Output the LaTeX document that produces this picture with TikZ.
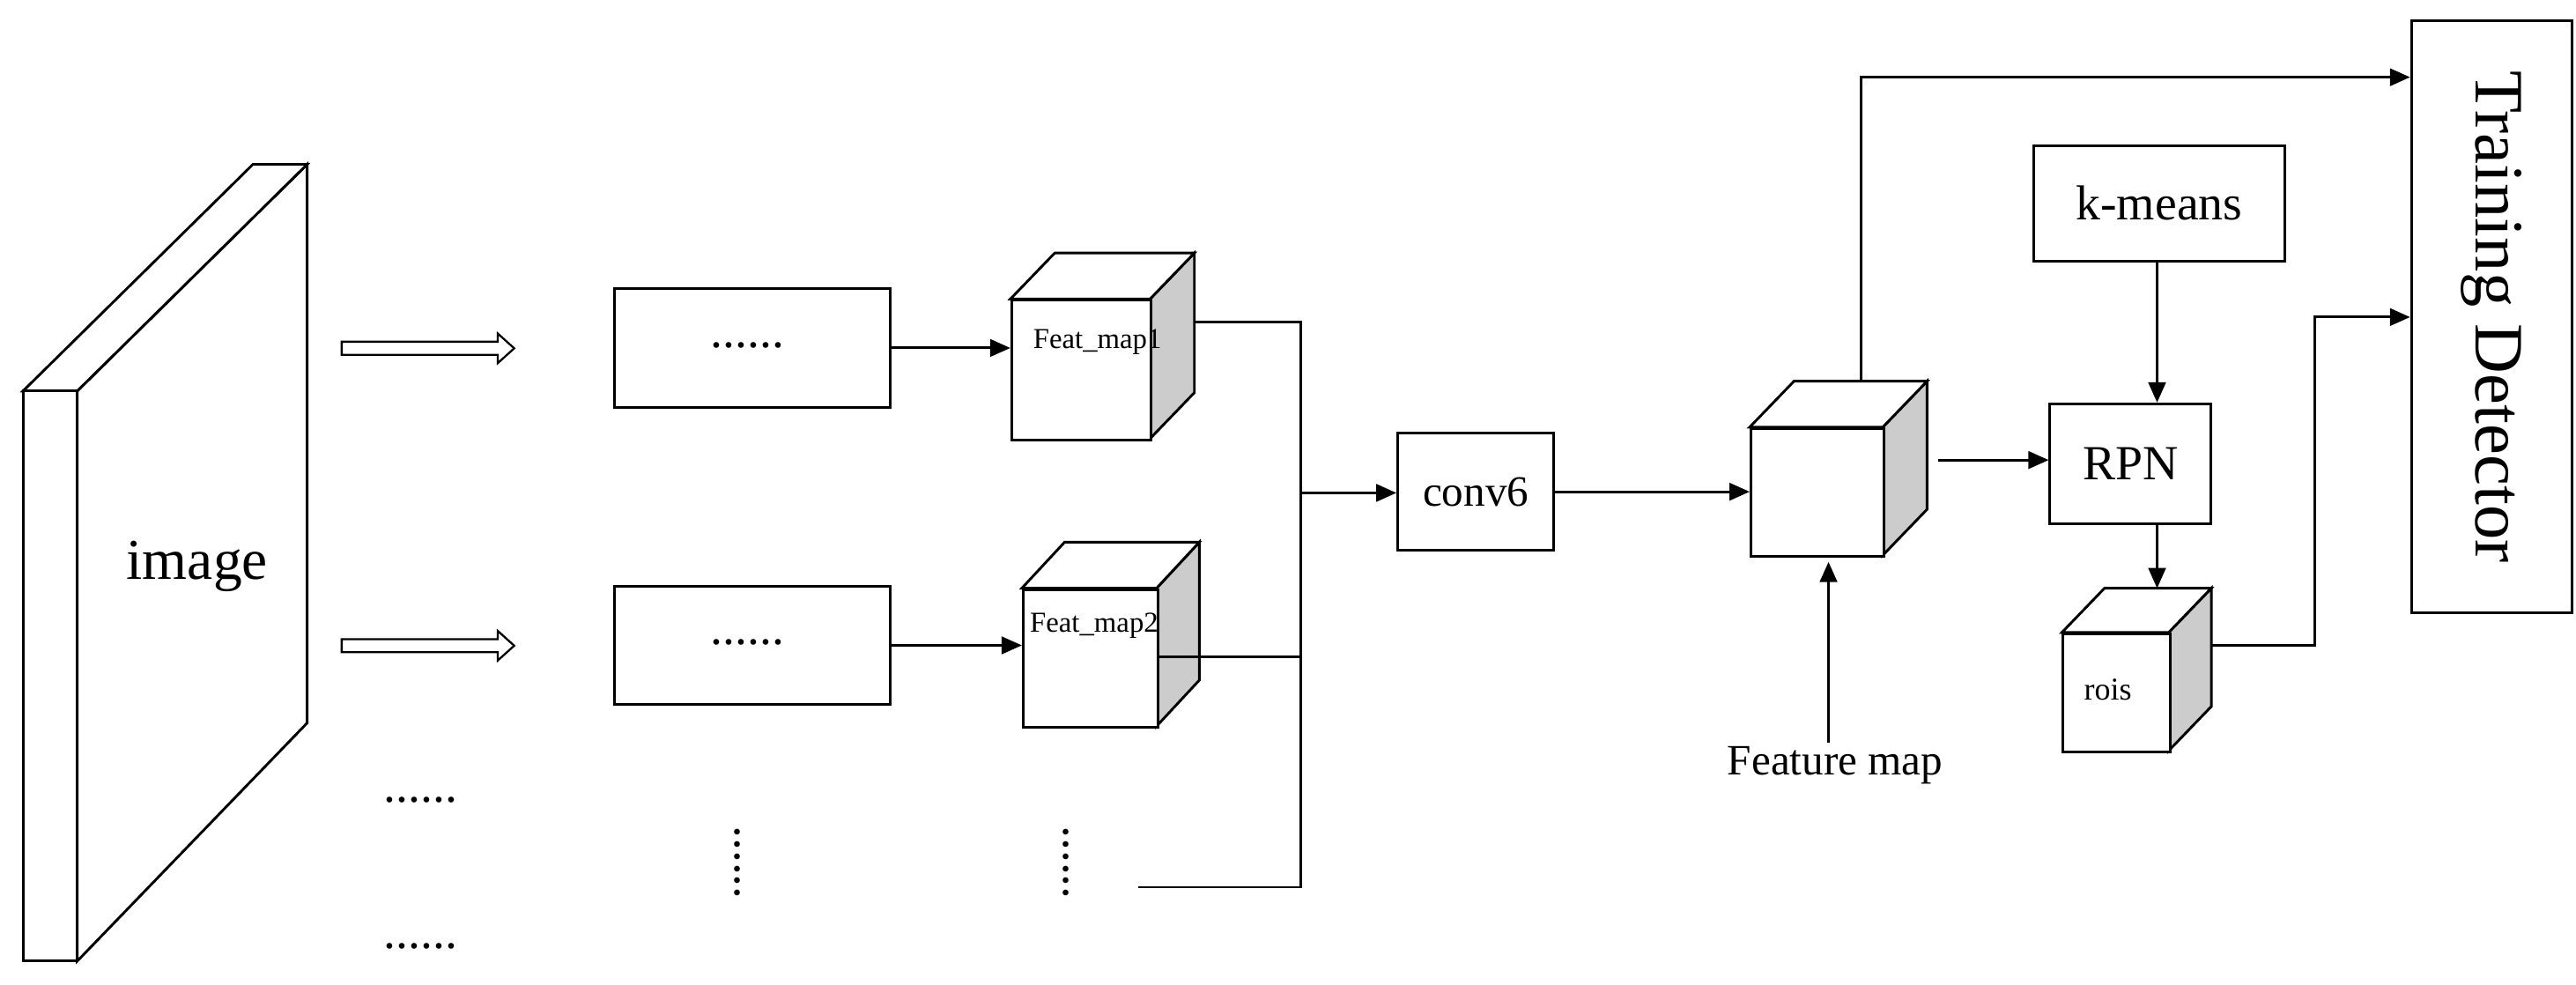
\documentclass[tikz,border=0pt]{standalone}
\usepackage{fontspec}
\setmainfont{Liberation Serif}
\usetikzlibrary{arrows.meta}
\begin{document}
\begin{tikzpicture}[x=0.02cm,y=-0.02cm,line width=0.9pt,
  box/.style={draw,inner sep=0,anchor=north west},
  arr/.style={-{Triangle[length=7pt,width=6pt]}},
  dots/.style={font=\fontsize{17}{20}\selectfont}]
\useasboundingbox (0,0) rectangle (1568,599);
% image slab
\draw[fill=white] (47,238) -- (187,100) -- (187,440) -- (47,585) -- cycle;
\draw[fill=white] (14,238) -- (154,100) -- (187,100) -- (47,238) -- cycle;
\draw[fill=white] (14,238) rectangle (47,585);
\node (img) at (120,345) {\fontsize{20}{24}\selectfont image};
% hollow arrows
\foreach \y in {212,393}{
  \draw[line width=0.7pt] (208,\y-4) -- (303,\y-4) -- (303,\y-9) -- (313,\y) -- (303,\y+9) -- (303,\y+4) -- (208,\y+4) -- cycle;
}
\node[dots] at (256,487) {......};
\node[dots] at (256,576) {......};
% dotted boxes
\node[box,minimum width=168*0.02cm,minimum height=72*0.02cm] (b1) at (373,175) {};
\node[dots] at (455,210) {......};
\node[box,minimum width=168*0.02cm,minimum height=72*0.02cm] (b2) at (373,356) {};
\node[dots] at (455,391) {......};
\node[dots,rotate=-90] at (449,525) {......};
\node[dots,rotate=-90] at (649,525) {......};
% cubes
\draw[fill=gray!40] (700,182) -- (727,154) -- (727,239) -- (700,267) -- cycle;
\draw[fill=white] (615,182) -- (642,154) -- (727,154) -- (700,182) -- cycle;
\node[box,fill=white,minimum width=85*0.02cm,minimum height=85*0.02cm] (c1) at (615,182) {};
\node[font=\fontsize{10}{11}\selectfont] at (668,208) {Feat\_map1};
\draw[fill=gray!40] (704,358) -- (730,330) -- (730,414) -- (704,442) -- cycle;
\draw[fill=white] (622,358) -- (648,330) -- (730,330) -- (704,358) -- cycle;
\node[box,fill=white,minimum width=82*0.02cm,minimum height=84*0.02cm] (c2) at (622,358) {};
\node[font=\fontsize{10}{11}\selectfont] at (666,381) {Feat\_map2};
\draw[arr] (b1.east) -- (c1.west|-b1.east);
\draw[arr] (b2.east) -- (c2.west|-b2.east);
% merge
\coordinate (m1) at (727,196);
\coordinate (m2) at (704,400);
\coordinate (m3) at (693,540);
\coordinate (j) at (792,300);
\draw (m1) -- (792,196) -- (792,540) -- (m3);
\draw (m2) -- (792,400);
\node[box,minimum width=95*0.02cm,minimum height=71*0.02cm] (conv) at (850,263) {};
\node[font=\fontsize{15}{18}\selectfont] at (conv.center) {conv6};
\draw[arr] (j) -- (conv.west|-j);
% big cube
\draw[fill=gray!40] (1146,260) -- (1173,232) -- (1173,310) -- (1146,338) -- cycle;
\draw[fill=white] (1065,260) -- (1092,232) -- (1173,232) -- (1146,260) -- cycle;
\node[box,fill=white,minimum width=81*0.02cm,minimum height=78*0.02cm] (fm) at (1065,260) {};
\draw[arr] (conv.east) -- (fm.west|-conv.east);
\node[font=\fontsize{15}{18}\selectfont] (fml) at (1117,466) {Feature map};
\draw[arr] (1113,452) -- (1113,342);
% RPN, kmeans
\node[box,minimum width=98*0.02cm,minimum height=73*0.02cm] (rpn) at (1247,245) {};
\node[font=\fontsize{17}{20}\selectfont] at (rpn.center) {RPN};
\node[box,minimum width=153*0.02cm,minimum height=70*0.02cm] (km) at (1237,88) {};
\node[font=\fontsize{17}{20}\selectfont] at (km.center) {k-means};
\draw[arr] (1313,158) -- (1313,245);
\draw[arr] (1180,280) -- (rpn.west|-0,280);
% rois
\draw[fill=gray!40] (1320,385) -- (1346,358) -- (1346,430) -- (1320,457) -- cycle;
\draw[fill=white] (1255,385) -- (1281,358) -- (1346,358) -- (1320,385) -- cycle;
\node[box,fill=white,minimum width=65*0.02cm,minimum height=72*0.02cm] (rois) at (1255,385) {};
\node[font=\fontsize{11}{12}\selectfont] at (1283,420) {rois};
\draw[arr] (1313,318) -- (1313,358);
% training detector
\node[box,minimum width=98*0.02cm,minimum height=360*0.02cm] (td) at (1467,12) {};
\node[rotate=-90,font=\fontsize{24}{28}\selectfont] at (td.center) {Training Detector};
\draw[arr] (1133,232) -- (1133,47) -- (td.west|-0,47);
\draw[arr] (1346,393) -- (1409,393) -- (1409,193) -- (td.west|-0,193);
\end{tikzpicture}
\end{document}
